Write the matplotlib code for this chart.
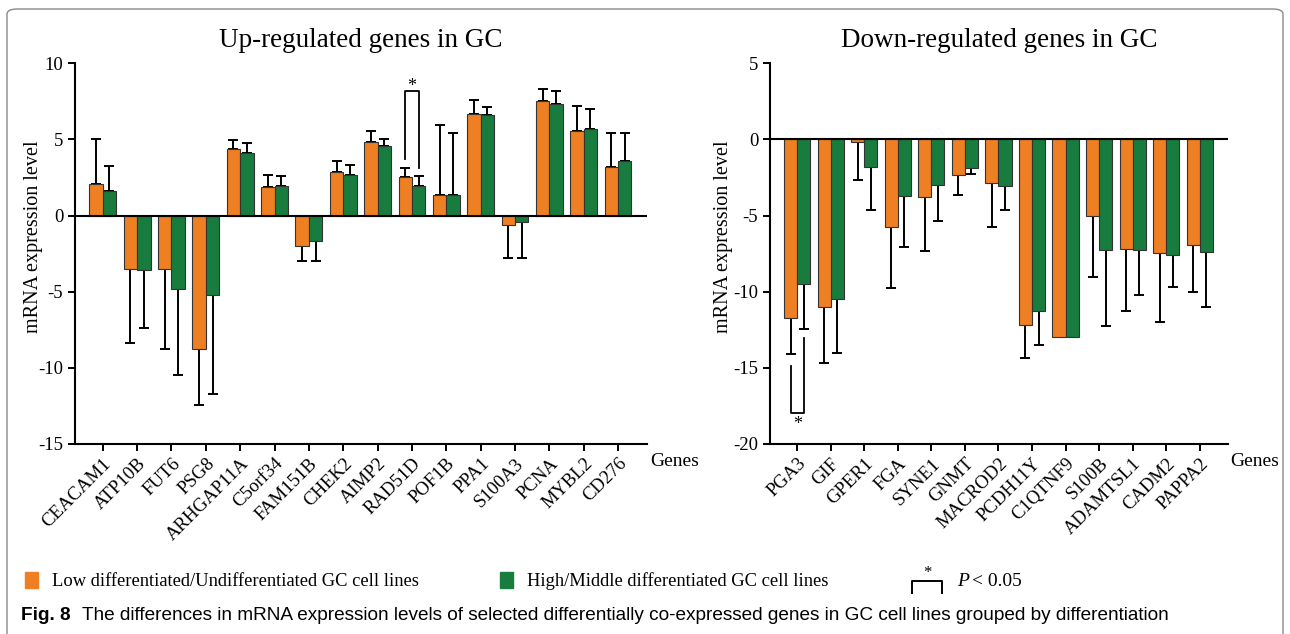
import matplotlib
matplotlib.use('Agg')
import matplotlib.pyplot as plt
import numpy as np
from matplotlib.patches import Rectangle, FancyBboxPatch
from matplotlib.lines import Line2D

plt.rcParams['font.family'] = ['Liberation Serif', 'DejaVu Serif']
plt.rcParams['axes.unicode_minus'] = False

ORANGE = '#EE7F22'
GREEN = '#177C3D'

# Données (moyenne et écart-type)
up_genes = ['CEACAM1', 'ATP10B', 'FUT6', 'PSG8', 'ARHGAP11A', 'C5orf34', 'FAM151B',
            'CHEK2', 'AIMP2', 'RAD51D', 'POF1B', 'PPA1', 'S100A3', 'PCNA', 'MYBL2', 'CD276']
up_low = [2.06, -3.52, -3.52, -8.73, 4.35, 1.86, -2.01, 2.89, 4.81, 2.54, 1.36, 6.70, -0.61, 7.53, 5.56, 3.19]
up_low_sd = [2.97, 4.88, 5.23, 3.68, 0.62, 0.79, 0.97, 0.70, 0.75, 0.61, 4.61, 0.87, 2.15, 0.76, 1.66, 2.26]
up_high = [1.58, -3.57, -4.84, -5.21, 4.14, 1.93, -1.68, 2.67, 4.57, 1.95, 1.36, 6.59, -0.44, 7.35, 5.71, 3.57]
up_high_sd = [1.70, 3.83, 5.64, 6.50, 0.61, 0.67, 1.30, 0.66, 0.44, 0.65, 4.04, 0.57, 2.32, 0.81, 1.29, 1.88]

down_genes = ['PGA3', 'GIF', 'GPER1', 'FGA', 'SYNE1', 'GNMT', 'MACROD2', 'PCDH11Y',
              'C1QTNF9', 'S100B', 'ADAMTSL1', 'CADM2', 'PAPPA2']
down_low = [-11.71, -11.03, -0.20, -5.78, -3.81, -2.34, -2.87, -12.21, -13.0, -5.03, -7.18, -7.48, -6.94]
down_low_sd = [2.40, 3.67, 2.49, 3.98, 3.52, 1.31, 2.88, 2.14, 0.0, 4.03, 4.07, 4.51, 3.08]
down_high = [-9.52, -10.50, -1.84, -3.70, -2.98, -1.88, -3.06, -11.25, -13.0, -7.29, -7.29, -7.61, -7.42]
down_high_sd = [2.93, 3.55, 2.82, 3.39, 2.36, 0.40, 1.60, 2.27, 0.0, 4.99, 2.93, 2.06, 3.59]

# Crochets de significativité : (indice du gène, y côté orange, y crochet, y côté vert, y étoile)
up_sig = (9, 3.74, 8.18, 3.15, 8.45)
down_sig = (0, -14.88, -17.99, -13.06, -18.75)

W = 0.39


def draw_panel(ax, genes, low, low_sd, high, high_sd, ylim, title, sig, label_x):
    x = np.arange(len(genes))
    low = np.array(low)
    high = np.array(high)
    for vals, sds, off, col in [(low, low_sd, -W / 2, ORANGE), (high, high_sd, W / 2, GREEN)]:
        ax.bar(x + off, vals, W, color=col, edgecolor='#333333', linewidth=0.8, zorder=3)
        sds = np.array(sds)
        lower = np.where(vals < 0, sds, 0)
        upper = np.where(vals >= 0, sds, 0)
        ax.errorbar(x + off, vals, yerr=[lower, upper], fmt='none', ecolor='black',
                    elinewidth=1.4, capsize=3.5, capthick=1.4, zorder=2)
    ax.axhline(0, color='black', lw=1.5, zorder=4)

    i, y_o, y_b, y_g, y_s = sig
    ax.plot([i - W / 2, i - W / 2, i + W / 2, i + W / 2], [y_o, y_b, y_b, y_g],
            color='black', lw=1.3, zorder=5)
    ax.text(i, y_s, '*', ha='center', va='center', fontsize=13)

    ax.set_xlim(-0.81, len(genes) - 1 + 0.84)
    ax.set_ylim(*ylim)
    ax.set_yticks(np.arange(ylim[0], ylim[1] + 1, 5))
    ax.set_xticks(x)
    ax.set_xticklabels(genes, rotation=45, ha='right', rotation_mode='anchor', fontsize=13.5)
    ax.tick_params(axis='both', width=1.4, length=5, labelsize=13.5)
    ax.tick_params(axis='x', pad=3)
    for s in ['top', 'right']:
        ax.spines[s].set_visible(False)
    for s in ['left', 'bottom']:
        ax.spines[s].set_linewidth(1.5)
    ax.set_ylabel('mRNA expression level', fontsize=14.5)
    ax.yaxis.set_label_coords(label_x, 0.545)
    ax.set_title(title, fontsize=19.5, pad=12)
    ax.text(1.005, -0.045, 'Genes', transform=ax.transAxes, ha='left', va='center', fontsize=14)


fig = plt.figure(figsize=(12.9, 6.34), dpi=100)
ax1 = fig.add_axes([0.0581, 0.2997, 0.4434, 0.6005])
ax2 = fig.add_axes([0.5969, 0.2997, 0.3550, 0.6005])

draw_panel(ax1, up_genes, up_low, up_low_sd, up_high, up_high_sd, (-15, 10),
           'Up-regulated genes in GC', up_sig, -0.055)
draw_panel(ax2, down_genes, down_low, down_low_sd, down_high, down_high_sd, (-20, 5),
           'Down-regulated genes in GC', down_sig, -0.080)

# Cadre arrondi
fig.patches.append(FancyBboxPatch((7 / 1290, -0.02), 1276 / 1290, 1 - 9 / 634 + 0.02,
                                  boxstyle='round,pad=0,rounding_size=0.008',
                                  transform=fig.transFigure, fill=False,
                                  edgecolor='#888888', linewidth=1.0))


def px(xp, yp):
    return xp / 1290, 1 - yp / 634


# Légende
fig.patches.append(Rectangle(px(25, 588), 13 / 1290, 16 / 634, transform=fig.transFigure,
                             color=ORANGE))
fig.text(*px(52, 581), 'Low differentiated/Undifferentiated GC cell lines', fontsize=13.3,
         va='center', ha='left')
fig.patches.append(Rectangle(px(500, 588), 13 / 1290, 16 / 634, transform=fig.transFigure,
                             color=GREEN))
fig.text(*px(527, 581), 'High/Middle differentiated GC cell lines', fontsize=13.3,
         va='center', ha='left')
bx = [912 / 1290, 912 / 1290, 942 / 1290, 942 / 1290]
by = [1 - 593 / 634, 1 - 581 / 634, 1 - 581 / 634, 1 - 593 / 634]
fig.add_artist(Line2D(bx, by, transform=fig.transFigure, color='black', lw=1.4))
fig.text(*px(927, 573), '*', fontsize=12, ha='center', va='center')
fig.text(*px(957, 581), 'P', fontsize=14, fontstyle='italic', va='center', ha='left')
fig.text(*px(972, 581), '< 0.05', fontsize=14, va='center', ha='left')

# Légende de la figure
cap_font = ['Liberation Sans', 'DejaVu Sans']
fig.text(*px(21, 615), 'Fig. 8', fontsize=13.7, fontweight='bold', va='center', ha='left',
         family=cap_font)
fig.text(*px(82, 615), 'The differences in mRNA expression levels of selected differentially '
         'co-expressed genes in GC cell lines grouped by differentiation',
         fontsize=13.7, va='center', ha='left', family=cap_font)

fig.savefig('out.png', dpi=100)
